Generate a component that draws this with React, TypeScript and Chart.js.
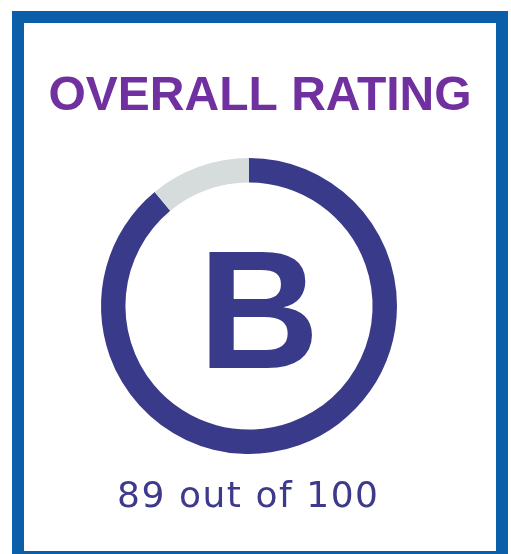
import React, { useEffect, useRef } from "react";
import { Chart, registerables } from "chart.js";

Chart.register(...registerables);

const titleText = "OVERALL RATING";
const segmentLabels = ["Score", "Remaining"];
const segmentValues = [89, 11];
const gradeLetter = "B";
const scoreCaption = "89 out of 100";

const W = 511;
const H = 554;

const overlayPlugin = {
  id: "ratingOverlay",
  beforeDraw(chart: any) {
    const ctx = chart.ctx;
    ctx.save();
    ctx.fillStyle = "#ffffff";
    ctx.fillRect(0, 0, W, H);
    ctx.strokeStyle = "#0b5fa9";
    ctx.lineWidth = 12;
    ctx.strokeRect(18, 17, 484, 540);
    ctx.restore();
  },
  afterDraw(chart: any) {
    const ctx = chart.ctx;
    ctx.save();
    ctx.textBaseline = "alphabetic";
    ctx.textAlign = "center";
    // title
    ctx.fillStyle = "#7030a0";
    ctx.font = "bold 48px 'Liberation Sans', Arial, sans-serif";
    ctx.fillText(titleText, 260, 110);
    // grade letter
    ctx.fillStyle = "#3a3a8a";
    ctx.font = "bold 168px 'Liberation Sans', Arial, sans-serif";
    ctx.fillText(gradeLetter, 259, 368);
    // caption
    ctx.fillStyle = "#3d3a8c";
    ctx.font = "400 36px 'DejaVu Sans', sans-serif";
    const target = 261;
    const w = ctx.measureText(scoreCaption).width;
    const n = scoreCaption.length;
    const ls = (target - w) / (n - 1);
    if ((ctx as any).letterSpacing !== undefined) {
      (ctx as any).letterSpacing = ls + "px";
      ctx.textAlign = "left";
      ctx.fillText(scoreCaption, 247.5 - target / 2, 507);
    } else {
      ctx.fillText(scoreCaption, 247.5, 507);
    }
    ctx.restore();
  },
};

export default function App() {
  const ref = useRef<HTMLCanvasElement | null>(null);
  useEffect(() => {
    if (!ref.current) return;
    const chart = new Chart(ref.current, {
      type: "doughnut",
      data: {
        labels: segmentLabels,
        datasets: [
          {
            data: segmentValues,
            backgroundColor: ["#3a3a8a", "#d6dbdc"],
            borderWidth: 0,
            hoverOffset: 0,
          },
        ],
      },
      options: {
        responsive: false,
        animation: false,
        devicePixelRatio: 1,
        cutout: "83.5%",
        rotation: 0,
        layout: { padding: { left: 101, right: 114, top: 158, bottom: 100 } },
        plugins: {
          legend: { display: false },
          tooltip: { enabled: false },
        },
        events: [],
      },
      plugins: [overlayPlugin],
    } as any);
    return () => chart.destroy();
  }, []);
  return (
    <div style={{ position: "absolute", left: 0, top: 0, width: W, height: H, overflow: "hidden", background: "#fff" }}>
      <canvas ref={ref} width={W} height={H} style={{ display: "block", width: W, height: H }} />
    </div>
  );
}
